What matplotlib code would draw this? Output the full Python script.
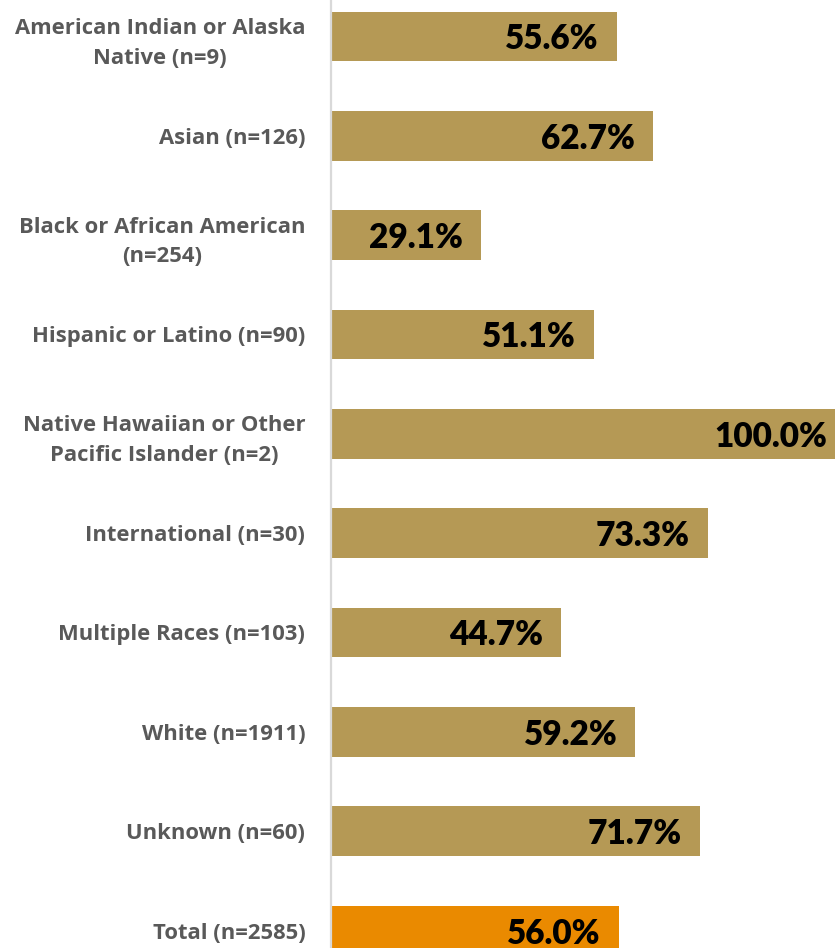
import matplotlib
matplotlib.use('Agg')
import matplotlib.pyplot as plt

# ── Data ───────────────────────────────────────────────────
groups = [
    'American Indian or Alaska\nNative (n=9)',
    'Asian (n=126)',
    'Black or African American\n(n=254)',
    'Hispanic or Latino (n=90)',
    'Native Hawaiian or Other\nPacific Islander (n=2)',
    'International (n=30)',
    'Multiple Races (n=103)',
    'White (n=1911)',
    'Unknown (n=60)',
    'Total (n=2585)',
]
pct = [55.6, 62.7, 29.1, 51.1, 100.0, 73.3, 44.7, 59.2, 71.7, 56.0]

GOLD   = '#B59955'
ORANGE = '#EA8A00'
LABEL  = '#595959'
AXIS   = '#D9D9D9'

colors = [GOLD] * (len(pct) - 1) + [ORANGE]

fig = plt.figure(figsize=(8.35, 9.48), dpi=100)
ax = fig.add_axes([331/835, 0, 514/835, 1])

ypos = list(range(len(pct)))
ax.barh(ypos, pct, height=0.5, color=colors, zorder=2)

ax.set_xlim(0, 100)
ax.set_ylim(9.176, -0.367)

# value labels sit just inside the end of each bar
for y, v in zip(ypos, pct):
    ax.text(v - 3.5, y, f'{v:.1f}%', ha='right', va='center_baseline',
            fontsize=24, fontweight='heavy', color='black',
            family='Lato', zorder=3)

ax.set_yticks(ypos)
ax.set_yticklabels(groups, fontsize=15.8, fontweight='bold', color=LABEL,
                   family='Open Sans', multialignment='center', linespacing=1.55)
ax.tick_params(axis='y', length=0, pad=18.5)
ax.set_xticks([])

for side in ['top', 'right', 'bottom']:
    ax.spines[side].set_visible(False)
ax.spines['left'].set_color(AXIS)
ax.spines['left'].set_linewidth(1.6)

fig.savefig('out.png', dpi=100)
